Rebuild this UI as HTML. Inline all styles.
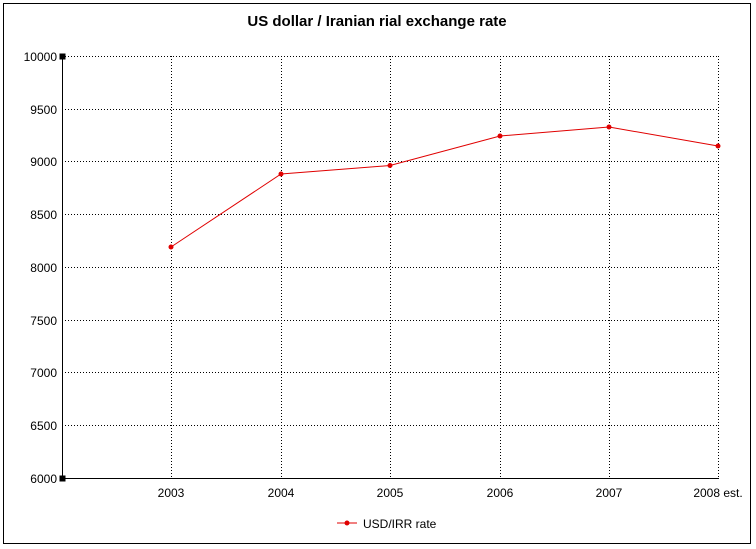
<!DOCTYPE html>
<html><head><style>body{margin:0;background:#fff}svg{display:block}</style></head><body>
<svg width="756" height="549" xmlns="http://www.w3.org/2000/svg" font-family="Liberation Sans, Arial, sans-serif">
<rect x="3.5" y="3.5" width="747" height="540" fill="#fff" stroke="#000"/>
<text x="377" y="26" text-anchor="middle" font-size="15" font-weight="bold">US dollar / Iranian rial  exchange rate</text>
<g stroke="#000" stroke-dasharray="1,2" stroke-width="1">
<line x1="62" y1="56.5" x2="718" y2="56.5"/><line x1="62" y1="109.5" x2="718" y2="109.5"/>
<line x1="62" y1="161.5" x2="718" y2="161.5"/><line x1="62" y1="214.5" x2="718" y2="214.5"/>
<line x1="62" y1="267.5" x2="718" y2="267.5"/><line x1="62" y1="320.5" x2="718" y2="320.5"/>
<line x1="62" y1="372.5" x2="718" y2="372.5"/><line x1="62" y1="425.5" x2="718" y2="425.5"/>
<line x1="171.5" y1="56" x2="171.5" y2="478"/><line x1="281.5" y1="56" x2="281.5" y2="478"/>
<line x1="390.5" y1="56" x2="390.5" y2="478"/><line x1="500.5" y1="56" x2="500.5" y2="478"/>
<line x1="609.5" y1="56" x2="609.5" y2="478"/><line x1="718.5" y1="56" x2="718.5" y2="478"/>
</g>
<line x1="62.5" y1="56" x2="62.5" y2="478" stroke="#000"/>
<line x1="62" y1="478.5" x2="719" y2="478.5" stroke="#000"/>
<rect x="59.5" y="53.5" width="6" height="6" fill="#000"/>
<rect x="59.5" y="475.5" width="6" height="6" fill="#000"/>
<g font-size="12" text-anchor="end">
<text x="57" y="61">10000</text><text x="57" y="114">9500</text><text x="57" y="166">9000</text>
<text x="57" y="219">8500</text><text x="57" y="272">8000</text><text x="57" y="325">7500</text>
<text x="57" y="377">7000</text><text x="57" y="430">6500</text><text x="57" y="483">6000</text>
</g>
<g font-size="12" text-anchor="middle">
<text x="171" y="497">2003</text><text x="281" y="497">2004</text><text x="390" y="497">2005</text>
<text x="500" y="497">2006</text><text x="609" y="497">2007</text><text x="718" y="497">2008 est.</text>
</g>
<polyline fill="none" stroke="#e00000" stroke-width="1" points="171,247 281,174 390,165.5 500,136 609,127 718,146"/>
<g fill="#e00000">
<circle cx="171" cy="247" r="2.5"/><circle cx="281" cy="174" r="2.5"/><circle cx="390" cy="165.5" r="2.5"/>
<circle cx="500" cy="136" r="2.5"/><circle cx="609" cy="127" r="2.5"/><circle cx="718" cy="146" r="2.5"/>
</g>
<line x1="337" y1="523" x2="357" y2="523" stroke="#e00000"/>
<circle cx="347" cy="523" r="2.5" fill="#e00000"/>
<text x="363" y="528" font-size="12">USD/IRR rate</text>
</svg>
</body></html>
